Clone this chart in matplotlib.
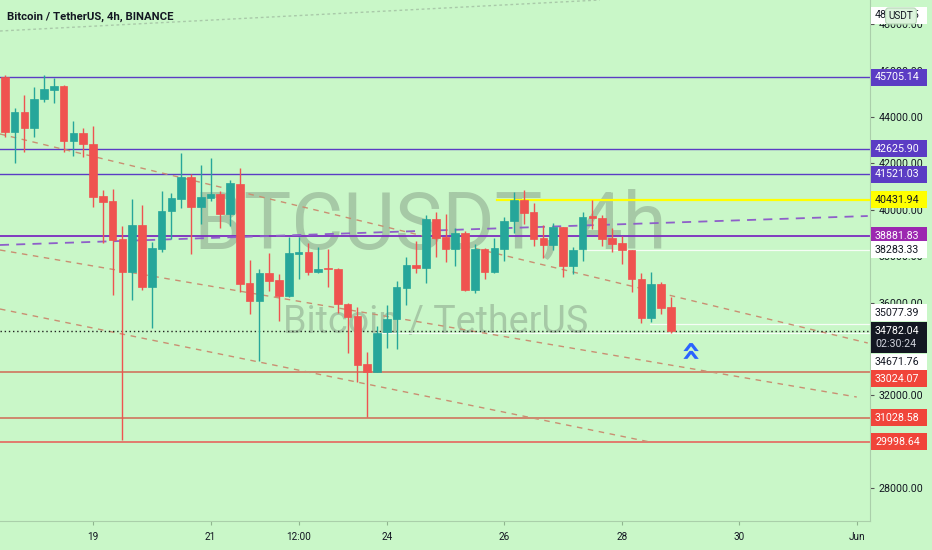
import matplotlib
matplotlib.use('Agg')
import matplotlib.pyplot as plt
import matplotlib.dates as mdates
from matplotlib.patches import Rectangle
from matplotlib import font_manager
import pandas as pd

# ---------------- data ----------------
first_candle = '2021-05-17 12:00'
opens = [45712, 43366, 44229, 43539, 44776, 45164, 45337, 42965, 43310, 42836,
         40594, 40378, 38739, 37304, 39356, 36669, 38321, 39960, 40477, 41426,
         40132, 40520, 40680, 39817, 41111, 36829, 36053, 37273, 36971, 36281,
         38106, 38166, 37303, 37502, 37446, 35937, 35419, 33349, 33017, 34716,
         35277, 36639, 37618, 37502, 39602, 38838, 38308, 38985, 36540, 38295,
         37303, 38308, 39516, 40421, 39891, 38770, 38481, 39244, 37588, 38308,
         39718, 39658, 38770, 38580, 38252, 37015, 35346, 36786, 35820]
highs = [45811, 44388, 44949, 45294, 45811, 45682, 45380, 43828, 43526, 43612,
         40852, 40895, 39313, 40464, 40206, 38623, 40822, 40723, 42461, 41542,
         41930, 42245, 40809, 41283, 41788, 37834, 37432, 38123, 37230, 38838,
         38813, 38554, 38407, 38295, 37489, 35980, 35820, 33880, 35001, 35893,
         36928, 37950, 38653, 39774, 39891, 39804, 39201, 39097, 38524, 38338,
         38770, 39701, 40753, 40852, 40279, 39343, 39442, 39270, 38407, 39891,
         40421, 39774, 39201, 38882, 38265, 37260, 37303, 36898, 36251]
lows = [43138, 42016, 42491, 43138, 44660, 44604, 42491, 42332, 42275, 40132,
        38580, 36325, 30072, 36109, 36540, 34902, 38192, 38739, 40089, 38093,
        39373, 40378, 39201, 39300, 36467, 35505, 33478, 36510, 35203, 36251,
        37002, 37187, 37260, 36683, 35536, 33811, 32586, 31077, 32990, 34026,
        33996, 35893, 37260, 36829, 37950, 37761, 37588, 36497, 36424, 37002,
        37260, 37804, 38985, 39373, 38438, 37907, 38265, 37114, 37217, 37804,
        39158, 38438, 38192, 37661, 36467, 35130, 35173, 35505, 34700]
closes = [43366, 44229, 43539, 44789, 45207, 45337, 42965, 43310, 42836, 40563,
          40348, 38696, 37316, 39356, 36669, 38351, 39960, 40494, 41426, 40132,
          40537, 40680, 39817, 41141, 36799, 36053, 37260, 36941, 36281, 38149,
          38166, 37303, 37446, 37433, 35924, 35389, 33306, 33017, 34673, 35290,
          36657, 37618, 37502, 39602, 38795, 38308, 38985, 36540, 38295, 37303,
          38338, 39528, 40421, 39848, 38739, 38481, 39244, 37588, 38265, 39701,
          39632, 38739, 38524, 38265, 37002, 35346, 36786, 35777, 34782.04]

level_purple = [45705.14, 42625.90, 41521.03]
level_magenta = 38881.83
level_yellow = 40431.94
level_red = [33024.07, 31028.58, 29998.64]
last_price = 34782.04
countdown = '02:30:24'
level_white = [38283.33, 35077.39, 34671.76]
top_label = 48415.45

# trend lines: (start date, start price, end date, end price)
trend_dashed = [('2021-05-17 10:00', 43267, '2021-06-01 04:30', 34255),
                ('2021-05-17 10:00', 38265, '2021-06-01 00:00', 31926),
                ('2021-05-17 10:00', 35721, '2021-05-28 11:30', 29986)]
trend_purple = ('2021-05-17 10:00', 38481, '2021-06-01 04:30', 39731)
trend_faint = ('2021-05-17 10:00', 47708, '2021-05-27 15:00', 49045)

price_ticks = [28000, 32000, 36000, 38000, 40000, 42000, 44000, 46000, 48000]
date_ticks = ['2021-05-19', '2021-05-21', '2021-05-22 12:00', '2021-05-24',
              '2021-05-26', '2021-05-28', '2021-05-30', '2021-06-01']
date_labels = ['19', '21', '12:00', '24', '26', '28', '30', 'Jun']

title = 'Bitcoin / TetherUS, 4h, BINANCE'
wm_big = 'BTCUSDT, 4h'
wm_small = 'Bitcoin / TetherUS'

# ---------------- style ----------------
names = {f.name for f in font_manager.fontManager.ttflist}
if 'Liberation Sans Narrow' in names:
    FONT = 'Liberation Sans Narrow'
    SC = 1.0
else:
    FONT = 'Roboto'
    SC = 0.82
plt.rcParams['font.family'] = [FONT, 'DejaVu Sans']

W, H = 932, 550
BG = '#c9f7c8'
UP, DOWN = '#26a69a', '#ef5350'
TXT = '#131722'
LBL = 9.3 * SC


def fx(px):
    return px / W


def fy(py):
    return 1 - py / H


fig = plt.figure(figsize=(W / 100, H / 100), dpi=100)
fig.patch.set_facecolor(BG)
ax = fig.add_axes([0, 29 / H, 870 / W, 521 / H])
ax.set_facecolor(BG)

px_per_day = 58.75
x_left = mdates.date2num(pd.Timestamp('2021-05-19')) - 93 / px_per_day
x_right = x_left + 870 / px_per_day
ax.set_xlim(x_left, x_right)
ax.set_ylim(26580, 49045)

# watermark
ax.text(fx(430), fy(248), wm_big, transform=fig.transFigure, ha='center',
        va='baseline', fontsize=70 * SC, color='#a6c9a6', zorder=0.5)
ax.text(fx(436), fy(333), wm_small, transform=fig.transFigure, ha='center',
        va='baseline', fontsize=33 * SC, color='#a6c9a6', zorder=0.5)

# horizontal levels
for lv in level_purple:
    ax.axhline(lv, color='#5b3cc4', lw=1.0, zorder=2)
ax.axhline(level_magenta, color='#7b2cbf', lw=1.3, zorder=2)
ax.axhline(level_yellow, xmin=497 / 870, xmax=1, color='#ffff00', lw=1.6, zorder=2)
for lv, c in zip(level_red, ['#d06a55', '#d06a55', '#e85a55']):
    ax.axhline(lv, color=c, lw=1.1, zorder=2)
for lv, xs in zip(level_white, [587, 650, 373]):
    ax.axhline(lv, xmin=xs / 870, xmax=1, color='white', lw=0.9, alpha=0.85, zorder=1.5)
ax.axhline(last_price, color='#222222', lw=1.0, ls=(0, (1, 2)), zorder=2.5)


# trend lines
def tline(seg, **kw):
    d0, p0, d1, p1 = seg
    ax.plot([mdates.date2num(pd.Timestamp(d0)), mdates.date2num(pd.Timestamp(d1))],
            [p0, p1], **kw)


for seg in trend_dashed:
    tline(seg, color='#c98f72', lw=1.0, ls=(0, (4, 4)), zorder=2)
tline(trend_purple, color='#8e5fc9', lw=1.3, ls=(0, (5, 4)), zorder=2)
tline(trend_faint, color='#a9c9a9', lw=1.0, ls=(0, (2, 2)), zorder=1)

# candles
times = mdates.date2num(pd.date_range(first_candle, periods=len(opens), freq='4h').to_pydatetime())
bw = 0.78 * 4 / 24
for t, o, h, l, c in zip(times, opens, highs, lows, closes):
    col = UP if c >= o else DOWN
    ax.vlines(t, l, h, color=col, lw=1.0, zorder=3)
    lo, hi = min(o, c), max(o, c)
    if hi - lo < 40:
        hi = lo + 40
    ax.bar(t, hi - lo, bottom=lo, width=bw, color=col, edgecolor=col, lw=0.5, zorder=4)

# chevron marker
ax.text(fx(690), fy(347), '»', transform=fig.transFigure, rotation=90, ha='center',
        va='center', fontsize=24, color='#2962ff', fontweight='bold', family='DejaVu Sans',
        zorder=6)

# axes styling
for s in ['top', 'left']:
    ax.spines[s].set_visible(False)
ax.spines['right'].set_color('#aacfaa')
ax.spines['bottom'].set_color('#aacfaa')
ax.yaxis.tick_right()
ax.set_yticks(price_ticks)
ax.set_yticklabels([f'{v:.2f}' for v in price_ticks])
ax.tick_params(axis='y', length=3, width=0.8, color='#555555', pad=3,
               labelsize=LBL, labelcolor=TXT)
ax.set_xticks([mdates.date2num(pd.Timestamp(d)) for d in date_ticks])
ax.set_xticklabels(date_labels)
ax.tick_params(axis='x', length=3, width=0.8, color='#8fb58f', pad=5,
               labelsize=8.8 * SC, labelcolor=TXT)

# title
fig.text(fx(7), fy(17), title, ha='left', va='center', fontsize=10 * SC,
         fontweight='bold', color=TXT)


# price labels on the right axis
def price_label(py, text, fc, tc, h=17):
    fig.patches.append(Rectangle((fx(871), fy(py + h / 2)), 56 / W, h / H,
                                 transform=fig.transFigure, facecolor=fc,
                                 edgecolor='none', zorder=5))
    fig.text(fx(875), fy(py), text, ha='left', va='center', fontsize=LBL,
             color=tc, zorder=6)


def ypix(price):
    return (49045 - price) / 43.12


price_label(15, f'{top_label:.2f}', 'white', TXT)
fig.text(fx(901), fy(16), 'USDT', ha='center', va='center', fontsize=8.8 * SC,
         color=TXT, zorder=8,
         bbox=dict(boxstyle='round,pad=0.3', fc='#dcf4dc', ec='#b5d6b5', lw=0.8))
for lv in level_purple:
    price_label(ypix(lv), f'{lv:.2f}', '#5b3cc4', 'white')
price_label(ypix(level_yellow), f'{level_yellow:.2f}', '#ffff00', TXT)
price_label(ypix(level_magenta), f'{level_magenta:.2f}', '#9c27b0', 'white')
price_label(ypix(level_white[0]), f'{level_white[0]:.2f}', 'white', TXT)
price_label(ypix(level_white[1]) - 11, f'{level_white[1]:.2f}', 'white', TXT)
# last price box
fig.patches.append(Rectangle((fx(871), fy(353)), 56 / W, 31 / H, transform=fig.transFigure,
                             facecolor=TXT, edgecolor='none', zorder=5))
fig.text(fx(875), fy(331), f'{last_price:.2f}', ha='left', va='center',
         fontsize=LBL, color='white', zorder=6)
fig.text(fx(875), fy(344), countdown, ha='left', va='center',
         fontsize=LBL, color='#d0d3dc', zorder=6)
price_label(ypix(level_white[2]) + 29, f'{level_white[2]:.2f}', 'white', TXT)
red_offsets = [7, 0, 0]
for lv, off in zip(level_red, red_offsets):
    price_label(ypix(lv) + off, f'{lv:.2f}', '#f0453a', 'white')

fig.savefig('out.png', dpi=100, facecolor=BG)
